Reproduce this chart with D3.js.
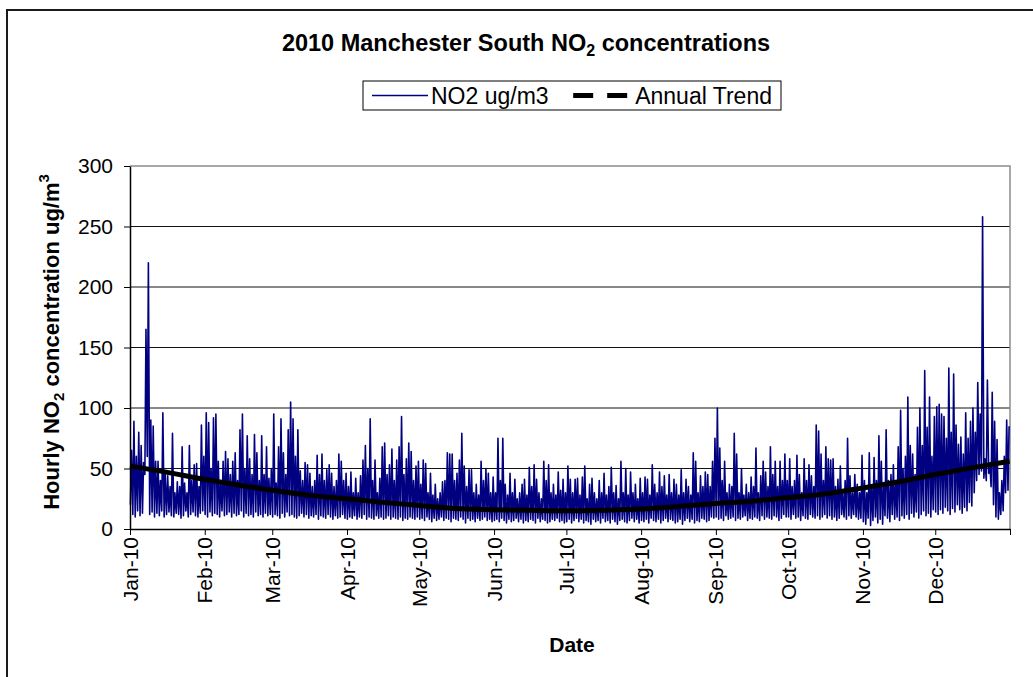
<!DOCTYPE html>
<html>
<head>
<meta charset="utf-8">
<script src="https://cdn.jsdelivr.net/npm/d3@7"></script>
<style>
  body { margin: 0; background: #fff; }
  text { font-family: "Liberation Sans", Arial, sans-serif; }
</style>
</head>
<body>
<div id="chart"></div>
<script>
// daily high / low of the hourly NO2 readings (ug/m3), one value per day of 2010
var dailyPeak = [
  65,89,60,80,69,55,165,220,90,85,56,56,40,96,45,44,35,79,30,39,35,68,38,30,69,40,53,54,35,86,60,   // Jan
  96,88,50,92,95,56,40,56,64,58,45,56,63,40,82,95,50,77,58,45,78,63,40,77,45,68,42,50,              // Feb
  95,38,68,91,63,45,82,105,91,60,82,48,40,55,53,46,35,40,61,45,62,40,49,53,46,35,40,62,56,40,46,   // Mar
  35,47,30,42,30,44,57,69,50,91,40,57,30,42,68,71,45,53,66,40,57,68,93,45,58,71,64,40,52,56,       // Apr
  37,57,54,30,46,28,37,25,30,39,40,63,62,62,40,46,57,79,52,35,49,49,30,37,28,56,40,50,46,30,43,    // May
  30,75,40,75,37,28,46,30,41,25,30,37,41,28,51,35,53,41,30,25,56,40,53,30,37,28,47,32,41,30,       // Jun
  52,41,30,41,42,28,43,52,25,37,42,30,25,40,30,46,28,35,51,30,36,25,56,30,50,28,47,30,37,25,42,    // Jul
  30,43,41,28,53,37,30,47,35,44,28,45,30,41,37,28,49,30,41,35,28,63,56,30,44,35,47,45,35,56,75,    // Aug
  100,67,40,56,30,37,35,79,62,30,50,28,37,30,43,35,67,30,44,56,47,35,68,45,56,35,56,40,62,40,      // Sep
  58,35,40,61,45,30,58,40,53,44,35,86,81,62,40,68,58,57,58,35,41,52,30,40,75,44,30,45,37,30,61,    // Oct
  40,30,63,35,59,40,77,56,35,82,40,45,53,40,68,98,50,60,109,69,62,45,84,100,69,131,84,109,60,93,   // Nov
  101,103,95,93,75,133,80,128,86,70,76,62,96,75,89,100,80,121,95,258,58,123,54,113,89,74,30,40,60,90,85 // Dec
]
var dailyLow = [
  20,12,10,15,11,13,45,60,12,14,10,13,11,15,10,12,14,11,10,13,12,9,11,15,10,12,14,11,10,13,15,
  12,10,14,11,13,12,10,15,11,12,14,10,13,11,12,15,10,13,11,12,10,14,11,12,10,13,11,12,
  10,12,11,9,13,10,14,11,12,10,9,11,13,10,12,9,11,10,12,8,11,10,9,12,10,8,11,9,10,12,9,
  8,10,9,11,8,10,9,12,8,10,9,8,11,9,10,8,9,11,8,10,9,8,10,7,9,8,10,9,8,10,
  8,9,7,10,8,6,9,7,8,10,7,9,8,6,9,8,7,10,8,5,9,7,8,6,9,7,8,10,7,8,6,
  7,8,6,9,7,5,8,6,7,9,6,8,5,7,6,8,7,5,9,6,8,7,5,6,8,7,9,6,7,5,
  6,8,5,7,9,6,8,5,7,6,4,8,6,7,5,9,6,7,5,8,6,4,7,8,6,5,7,9,6,8,5,
  7,6,8,5,9,7,6,8,5,7,9,6,8,7,5,6,8,4,7,9,6,8,5,7,6,9,8,6,7,10,9,
  10,8,9,7,11,8,9,10,7,9,8,10,11,7,9,8,10,9,7,11,8,10,9,8,11,10,7,9,12,10,
  10,8,12,9,10,7,11,9,8,12,10,9,11,8,10,12,9,11,8,10,7,9,12,10,8,11,9,12,10,8,9,
  6,4,9,3,7,10,5,8,4,11,9,6,12,8,10,7,11,9,12,8,13,10,14,9,12,15,11,13,10,16,
  14,12,16,13,18,15,12,17,14,20,16,13,18,15,22,19,30,40,45,48,42,40,46,35,20,10,8,12,15,30,32
]

// annual trend line read at roughly half-month steps
var trendDays = [0,15,31,46,59,74,90,105,120,135,151,166,181,196,212,227,243,258,273,288,304,319,334,349,364]
var trendVals = [52,47,41,36,32,28,25,22,19.5,17,16,15.5,15,15.5,16.5,18.5,21,23,26,29,34,39,45,50.5,56]

var yTicks = [0, 50, 100, 150, 200, 250, 300]

// set the dimensions of the page and the plot area
var W = 1033, H = 677
var plot = {left: 130, right: 1010, top: 166, bottom: 529}

var svg = d3.select("#chart")
  .append("svg")
    .attr("width", W)
    .attr("height", H)

// outer chart frame
svg.append("rect")
  .attr("x", 7).attr("y", 10)
  .attr("width", W + 20).attr("height", H + 20)
  .attr("fill", "white")
  .attr("stroke", "#1a1a1a")
  .attr("stroke-width", 2)

var start = new Date(Date.UTC(2010, 0, 1))
var end = new Date(Date.UTC(2011, 0, 1))

// Add X axis
var x = d3.scaleUtc()
  .domain([start, end])
  .range([plot.left, plot.right])

// Add Y axis
var y = d3.scaleLinear()
  .domain([0, 300])
  .range([plot.bottom, plot.top])

// horizontal gridlines
svg.append("g")
  .selectAll("line")
  .data(yTicks.filter(function(d){ return d > 0 && d < 300 }))
  .enter()
  .append("line")
    .attr("x1", plot.left).attr("x2", plot.right)
    .attr("y1", function(d){ return y(d) }).attr("y2", function(d){ return y(d) })
    .attr("stroke", "#111")
    .attr("stroke-width", 1)

// plot border top and right
svg.append("path")
  .attr("d", "M" + plot.left + "," + y(300) + "H" + plot.right + "V" + plot.bottom)
  .attr("fill", "none")
  .attr("stroke", "#8c8c8c")
  .attr("stroke-width", 1.5)

// hourly series: a low and a high reading each day
var data = []
dailyPeak.forEach(function(p, i) {
  data.push({t: d3.utcHour.offset(start, i * 24 + 4), v: dailyLow[i]})
  data.push({t: d3.utcHour.offset(start, i * 24 + 15), v: p})
})

svg.append("path")
  .datum(data)
  .attr("fill", "none")
  .attr("stroke", "#000080")
  .attr("stroke-width", 1.6)
  .attr("stroke-linejoin", "round")
  .attr("d", d3.line()
    .x(function(d){ return x(d.t) })
    .y(function(d){ return y(d.v) }))

// Annual trend
var trend = trendDays.map(function(d, i){ return {t: d3.utcDay.offset(start, d), v: trendVals[i]} })
trend[trend.length - 1].t = d3.utcHour.offset(start, 364 * 24 + 20)

svg.append("path")
  .datum(trend)
  .attr("fill", "none")
  .attr("stroke", "black")
  .attr("stroke-width", 5)
  .attr("d", d3.line()
    .curve(d3.curveMonotoneX)
    .x(function(d){ return x(d.t) })
    .y(function(d){ return y(d.v) }))

// y axis
var yAxis = svg.append("g")
  .attr("transform", "translate(" + plot.left + ",0)")
  .call(d3.axisLeft(y).tickValues(yTicks).tickSize(6).tickPadding(11).tickSizeOuter(0))
yAxis.select(".domain").attr("stroke", "black").attr("stroke-width", 1.5)
yAxis.selectAll(".tick line").attr("stroke", "black")
yAxis.selectAll("text")
  .attr("font-family", "Liberation Sans, Arial, sans-serif")
  .attr("font-size", 21)
  .attr("fill", "black")

// x axis with month ticks
var months = d3.utcMonth.range(start, end)
var xAxis = svg.append("g")
  .attr("transform", "translate(0," + plot.bottom + ")")
  .call(d3.axisBottom(x).tickValues(months.concat([end])).tickSize(6).tickSizeOuter(0).tickFormat(""))
xAxis.select(".domain").attr("stroke", "black").attr("stroke-width", 1.5)
xAxis.selectAll(".tick line").attr("stroke", "black")

svg.append("g")
  .selectAll("text")
  .data(months)
  .enter()
  .append("text")
    .attr("transform", function(d){ return "translate(" + x(d) + "," + (plot.bottom + 8) + ") rotate(-90)" })
    .attr("text-anchor", "end")
    .attr("dy", "0.36em")
    .attr("font-size", 21)
    .text(d3.utcFormat("%b-%y"))

// chart title
var title = svg.append("text")
  .attr("x", 526).attr("y", 51)
  .attr("text-anchor", "middle")
  .attr("font-size", 23.5)
  .attr("font-weight", "bold")
title.append("tspan").text("2010 Manchester South NO")
title.append("tspan").attr("dy", 5).attr("font-size", 16).text("2")
title.append("tspan").attr("dy", -5).text(" concentrations")

// axis titles
svg.append("text")
  .attr("x", 572).attr("y", 652)
  .attr("text-anchor", "middle")
  .attr("font-size", 21)
  .attr("font-weight", "bold")
  .text("Date")

var yTitle = svg.append("text")
  .attr("transform", "translate(59," + 342 + ") rotate(-90)")
  .attr("text-anchor", "middle")
  .attr("font-size", 22)
  .attr("font-weight", "bold")
yTitle.append("tspan").text("Hourly NO")
yTitle.append("tspan").attr("dy", 5).attr("font-size", 15).text("2")
yTitle.append("tspan").attr("dy", -5).text(" concentration ug/m")
yTitle.append("tspan").attr("dy", -10).attr("font-size", 15).text("3")

// legend: box spans 363..781, entries spread inside it
var legend = svg.append("g")
legend.append("rect")
  .attr("x", 363).attr("y", 81)
  .attr("width", 418).attr("height", 29)
  .attr("fill", "white")
  .attr("stroke", "black")
  .attr("stroke-width", 1)
var ly = 95.5
legend.append("line")
  .attr("x1", 372).attr("x2", 428).attr("y1", ly).attr("y2", ly)
  .attr("stroke", "#000080").attr("stroke-width", 1.6)
legend.append("text")
  .attr("x", 431).attr("y", ly).attr("dy", "0.35em")
  .attr("font-size", 23)
  .text("NO2 ug/m3")
var t2 = legend.append("text")
  .attr("y", ly).attr("dy", "0.35em")
  .attr("font-size", 23)
  .text("Annual Trend")
var t2x = 772 - t2.node().getComputedTextLength()
t2.attr("x", t2x)
legend.append("line")
  .attr("x1", t2x - 62).attr("x2", t2x - 8).attr("y1", ly).attr("y2", ly)
  .attr("stroke", "black").attr("stroke-width", 5)
  .attr("stroke-dasharray", "20,14")
</script>
</body>
</html>
